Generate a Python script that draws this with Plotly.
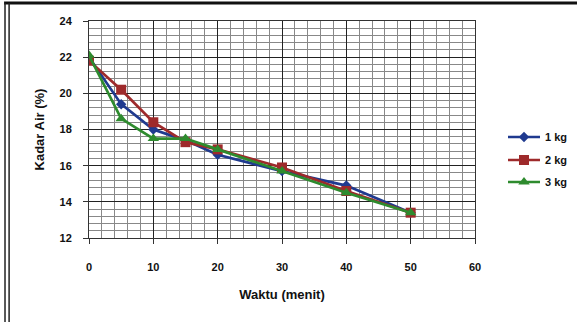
import plotly.graph_objects as go

waktu = [0, 5, 10, 15, 20, 30, 40, 50]
kg1 = [22.0, 19.4, 18.0, 17.4, 16.6, 15.7, 14.9, 13.4]
kg2 = [21.8, 20.2, 18.4, 17.3, 16.9, 15.9, 14.6, 13.4]
kg3 = [22.1, 18.6, 17.5, 17.5, 16.9, 15.7, 14.5, 13.4]
names = ["1 kg", "2 kg", "3 kg"]
colors = ["#1F3A8F", "#9E2A2B", "#2E8B2E"]
symbols = ["diamond", "square", "triangle-up"]
sizes = [8, 10, 10]
legend_ids = ["legend", "legend2", "legend3"]
legend_y = [1 - 137 / 322, 1 - 160 / 322, 1 - 182 / 322]

font = "Liberation Sans"
fig = go.Figure()
for ys, n, c, s, sz, lg in zip([kg1, kg2, kg3], names, colors, symbols, sizes, legend_ids):
    fig.add_trace(go.Scatter(x=waktu, y=ys, name="<b>" + n + "</b>", mode="lines+markers",
                             line=dict(color=c, width=2.7),
                             marker=dict(symbol=s, size=sz, color=c),
                             legend=lg))

axis_common = dict(showline=True, linecolor="#333", linewidth=1, mirror=True,
                   showgrid=True, gridcolor="#222", gridwidth=1,
                   ticks="outside", ticklen=5, tickcolor="#333",
                   tickfont=dict(family=font, size=11, color="#111"),
                   zeroline=False)
fig.update_xaxes(range=[0, 60], dtick=10, tick0=0,
                 minor=dict(dtick=2, showgrid=True, gridcolor="#888", gridwidth=1),
                 title=dict(text="<b>Waktu (menit)</b>", font=dict(family=font, size=13, color="#111"), standoff=17),
                 ticklabelstandoff=14, **axis_common)
fig.update_yaxes(range=[12, 24], dtick=2, tick0=12,
                 minor=dict(dtick=0.4, showgrid=True, gridcolor="#888", gridwidth=1),
                 title=dict(text="<b>Kadar Air (%)</b>", font=dict(family=font, size=13, color="#111"), standoff=11),
                 ticklabelstandoff=9, **axis_common)
fig.update_xaxes(tickprefix="<b>", ticksuffix="</b>")
fig.update_yaxes(tickprefix="<b>", ticksuffix="</b>")

leg_common = dict(x=503 / 577, xref="container", yref="container",
                  xanchor="left", yanchor="middle",
                  font=dict(family=font, size=11, color="#111"),
                  itemwidth=32, bgcolor="rgba(0,0,0,0)")
layout_legends = {lg: dict(y=yy, **leg_common) for lg, yy in zip(legend_ids, legend_y)}

fig.update_layout(width=577, height=322,
                  margin=dict(l=89, r=102, t=21, b=84, autoexpand=False),
                  paper_bgcolor="white", plot_bgcolor="white",
                  font=dict(family=font, color="#111"),
                  showlegend=True, **layout_legends)
# frame lines (top and double left)
fig.add_shape(type="line", xref="paper", yref="paper", x0=-0.22, x1=1.3, y0=1.083, y1=1.083,
              line=dict(color="#111", width=3))
fig.add_shape(type="line", xref="paper", yref="paper", x0=-0.2176, x1=-0.2176, y0=1.083, y1=-0.4,
              line=dict(color="#222", width=1.5))
fig.add_shape(type="line", xref="paper", yref="paper", x0=-0.207, x1=-0.207, y0=1.083, y1=-0.4,
              line=dict(color="#222", width=1.5))
fig.write_html("out.html")
